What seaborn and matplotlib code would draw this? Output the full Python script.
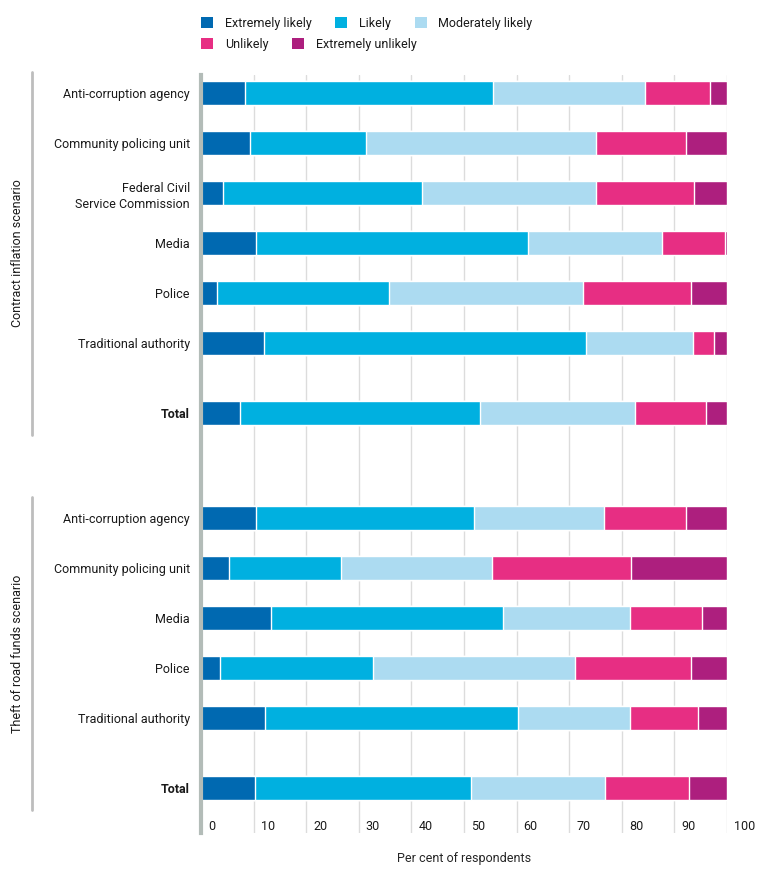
import pandas as pd
import matplotlib.pyplot as plt
import seaborn as sns
from matplotlib.patches import Patch
from matplotlib.lines import Line2D
from matplotlib.transforms import ScaledTranslation, blended_transform_factory


# -------------------------
# Data (per cent of respondents)
# -------------------------
levels = ["Extremely likely", "Likely", "Moderately likely", "Unlikely", "Extremely unlikely"]
colors = ["#0069b1", "#00b0e0", "#acdbf1", "#e72e83", "#ad1f7e"]

contract_labels = ["Anti-corruption agency", "Community policing unit",
                   "Federal Civil\nService Commission", "Media", "Police",
                   "Traditional authority", "Total"]
contract_el = [8.4, 9.4, 4.1, 10.5, 3.0, 12.0, 7.5]
contract_l = [47.1, 21.9, 37.9, 51.6, 32.8, 61.1, 45.6]
contract_ml = [29.0, 43.8, 33.1, 25.5, 36.9, 20.4, 29.4]
contract_u = [12.2, 17.1, 18.6, 12.0, 20.4, 4.0, 13.5]
contract_eu = [3.3, 7.8, 6.3, 0.4, 6.9, 2.5, 4.0]

theft_labels = ["Anti-corruption agency", "Community policing unit", "Media",
                "Police", "Traditional authority", "Total"]
theft_el = [10.5, 5.3, 13.3, 3.6, 12.2, 10.3]
theft_l = [41.4, 21.3, 44.2, 29.1, 48.1, 41.0]
theft_ml = [24.8, 28.7, 24.1, 38.4, 21.3, 25.5]
theft_u = [15.5, 26.4, 13.7, 22.0, 12.9, 15.9]
theft_eu = [7.8, 18.3, 4.7, 6.9, 5.5, 7.3]

group_names = ["Contract inflation scenario", "Theft of road funds scenario"]


# -------------------------
# Layout of rows (gaps before "Total" and between groups)
# -------------------------
total_gap = 1.4
group_gap = 2.1

def row_positions(n, start):
    pos = [start + i for i in range(n - 1)]
    pos.append(pos[-1] + total_gap)
    return pos

contract_pos = row_positions(len(contract_labels), 0)
theft_pos = row_positions(len(theft_labels), contract_pos[-1] + group_gap)

df = pd.concat([
    pd.DataFrame({"label": contract_labels, "pos": contract_pos, "group": group_names[0],
                  levels[0]: contract_el, levels[1]: contract_l, levels[2]: contract_ml,
                  levels[3]: contract_u, levels[4]: contract_eu}),
    pd.DataFrame({"label": theft_labels, "pos": theft_pos, "group": group_names[1],
                  levels[0]: theft_el, levels[1]: theft_l, levels[2]: theft_ml,
                  levels[3]: theft_u, levels[4]: theft_eu}),
], ignore_index=True)

# cumulative ends for stacking
cum = df[levels].cumsum(axis=1)
for lev in levels:
    df["cum_" + lev] = cum[lev]


# -------------------------
# Plot
# -------------------------
sns.set_style("white")
plt.rcParams["font.family"] = ["Roboto", "DejaVu Sans"]
plt.rcParams["text.color"] = "#1a1a1a"

fig = plt.figure(figsize=(7.64, 8.80), dpi=100)
ax = fig.add_axes([201 / 764, 1 - 833 / 880, 526 / 764, (833 - 75) / 880])

# draw longest cumulative bar first, shorter ones on top
for lev, col in zip(levels[::-1], colors[::-1]):
    sns.barplot(data=df, x="cum_" + lev, y="pos", orient="h", native_scale=True,
                color=col, saturation=1, width=0.48, errorbar=None,
                edgecolor="white", linewidth=1, ax=ax)

ax.set_xlim(0, 100)
ax.set_ylim(14.8, -0.36)

# gridlines and spines
ax.grid(axis="x", color="#dcdcdc", linewidth=1)
ax.grid(axis="y", visible=False)
ax.set_axisbelow(True)
for side in ["top", "right", "bottom"]:
    ax.spines[side].set_visible(False)
ax.spines["left"].set_color("#b3bcb8")
ax.spines["left"].set_linewidth(3)
ax.spines["left"].set_zorder(5)

# y labels
ax.set_yticks(df["pos"], df["label"])
ax.tick_params(axis="y", length=0, pad=8, labelsize=9, labelcolor="#1a1a1a")
for lbl in ax.get_yticklabels():
    if lbl.get_text() == "Total":
        lbl.set_fontweight("bold")
    if "\n" in lbl.get_text():
        lbl.set_linespacing(1.35)
ax.set_ylabel("")

# x ticks sit inside the plot, to the right of each gridline
ax.set_xticks(range(0, 101, 10))
ax.tick_params(axis="x", length=0, pad=-5, labelsize=9, labelcolor="#1a1a1a")
shift = ScaledTranslation(7 / 100, 0, fig.dpi_scale_trans)
for lbl in ax.get_xticklabels():
    lbl.set_horizontalalignment("left")
    lbl.set_verticalalignment("center")
    lbl.set_transform(lbl.get_transform() + shift)
ax.set_xlabel("Per cent of respondents", fontsize=9, labelpad=14)

# group brackets and labels
trans = blended_transform_factory(fig.transFigure, ax.transData)
for name, pos in [(group_names[0], contract_pos), (group_names[1], theft_pos)]:
    y0 = pos[0] - 0.42
    y1 = pos[-1] + 0.44
    fig.add_artist(Line2D([32 / 764, 32 / 764], [y0, y1], transform=trans,
                          color="#bdbdbd", linewidth=2))
    fig.text(18 / 764, (y0 + y1) / 2, name, transform=trans, rotation=90,
             ha="center", va="center", fontsize=9)

# legend in two rows
handles = [Patch(facecolor=c, edgecolor="none", label=l) for l, c in zip(levels, colors)]
leg_kw = dict(loc="upper left", frameon=False, fontsize=9, handlelength=0.95,
              handleheight=0.95, handletextpad=0.95, columnspacing=1.9,
              borderpad=0, borderaxespad=0)
fig.legend(handles=handles[:3], ncol=3, bbox_to_anchor=(201 / 764, 1 - 17 / 880), **leg_kw)
fig.legend(handles=handles[3:], ncol=2, bbox_to_anchor=(201 / 764, 1 - 38 / 880), **leg_kw)

plt.savefig("out.png", dpi=100)
